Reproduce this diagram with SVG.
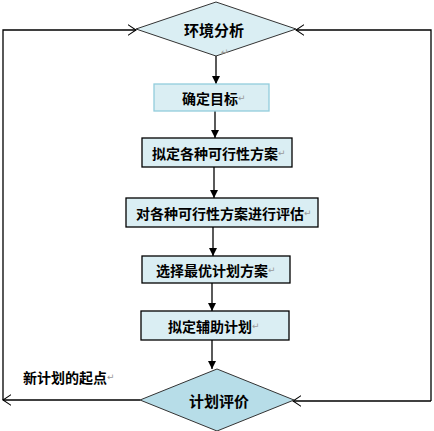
<svg xmlns="http://www.w3.org/2000/svg" width="434" height="431" viewBox="0 0 434 431">
<style>
.t{font-family:"Noto Sans CJK SC","Liberation Sans",sans-serif;font-weight:bold;font-size:14px;fill:#000;dominant-baseline:central}
.d{font-size:15px}
.p{font-family:"DejaVu Sans",sans-serif;font-weight:normal;font-size:9px;fill:#999}
.box{fill:#DAEEF3;stroke:#000;stroke-width:1.3}
.ln{fill:none;stroke:#000;stroke-width:1.3}
</style>
<defs>
<marker id="fa" viewBox="0 0 10 10" refX="10" refY="5" markerWidth="8" markerHeight="9" markerUnits="userSpaceOnUse" orient="auto"><path d="M0,0L10,5L0,10z" fill="#000"/></marker>
<marker id="oa" viewBox="0 0 10 12" refX="9" refY="6" markerWidth="9" markerHeight="12" markerUnits="userSpaceOnUse" orient="auto"><path d="M0,0L9,6L0,12" fill="none" stroke="#000" stroke-width="1.2"/></marker>
</defs>
<rect width="434" height="431" fill="#fff"/>
<g id="connectors">
<line class="ln" x1="216" y1="56" x2="216" y2="84" marker-end="url(#fa)"/>
<line class="ln" x1="215" y1="111" x2="215" y2="138" marker-end="url(#fa)"/>
<line class="ln" x1="214" y1="167" x2="214" y2="198" marker-end="url(#fa)"/>
<line class="ln" x1="213" y1="227" x2="213" y2="256" marker-end="url(#fa)"/>
<line class="ln" x1="212" y1="283" x2="212" y2="311" marker-end="url(#fa)"/>
<line class="ln" x1="212" y1="340" x2="212" y2="369" marker-end="url(#fa)"/>
<polyline class="ln" points="3,400 3,30 136,30" marker-end="url(#oa)"/>
<line class="ln" x1="140" y1="400" x2="3" y2="400" marker-end="url(#oa)"/>
<polyline class="ln" points="431,401 431,30 296,30" marker-end="url(#oa)"/>
<line class="ln" x1="431" y1="401" x2="293" y2="401" marker-end="url(#oa)"/>
</g>
<g id="n-env">
<polygon points="216,2 296,29 216,56 136,29" fill="#DAEEF3" stroke="#333" stroke-width="1"/>
<text class="t d" x="184" y="29">环境分析</text>
<text class="t p" x="221" y="52">↵</text>
</g>
<g id="n-goal">
<rect x="154" y="84" width="115" height="27" fill="#DAEEF3" stroke="#92CDDC" stroke-width="1.3"/>
<text class="t" x="182" y="98">确定目标<tspan class="p">↵</tspan></text>
</g>
<g id="n-plans">
<rect class="box" x="142" y="138" width="150" height="29"/>
<text class="t" x="152" y="153">拟定各种可行性方案<tspan class="p">↵</tspan></text>
</g>
<g id="n-eval">
<rect class="box" x="126" y="198" width="192" height="29"/>
<text class="t" x="136" y="213">对各种可行性方案进行评估<tspan class="p">↵</tspan></text>
</g>
<g id="n-best">
<rect class="box" x="142" y="256" width="148" height="27"/>
<text class="t" x="156" y="270">选择最优计划方案<tspan class="p">↵</tspan></text>
</g>
<g id="n-aux">
<rect class="box" x="141" y="311" width="148" height="29"/>
<text class="t" x="168" y="326">拟定辅助计划<tspan class="p">↵</tspan></text>
</g>
<g id="n-review">
<polygon points="217,369 294,400 217,431 140,400" fill="#B7DDE8" stroke="#333" stroke-width="1"/>
<text class="t d" x="189" y="400">计划评价</text>
</g>
<g id="label">
<text class="t" x="23" y="377">新计划的起点<tspan class="p">↵</tspan></text>
</g>
</svg>
